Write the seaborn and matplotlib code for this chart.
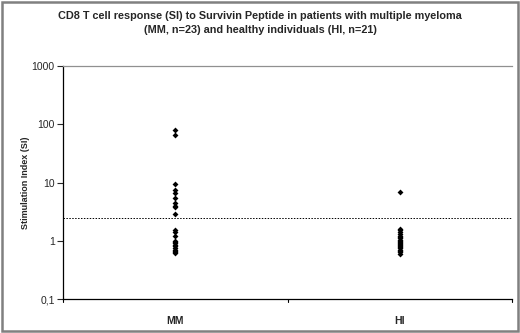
import numpy as np
import pandas as pd
import seaborn as sns
import matplotlib.pyplot as plt
from matplotlib.patches import Rectangle
from matplotlib.ticker import FixedLocator, NullLocator

# datos (SI por paciente)
grupos = ["MM", "HI"]
si_mm = [80, 65, 9.5, 7.5, 6.5, 5.5, 4.5, 4.0, 3.8, 2.9,
         1.5, 1.4, 1.2, 1.0, 0.95, 0.9, 0.85, 0.8, 0.75, 0.7, 0.68, 0.65, 0.62]
si_hi = [7.0, 1.6, 1.5, 1.4, 1.3, 1.2, 1.15, 1.1, 1.05, 1.0, 0.95,
         0.9, 0.87, 0.84, 0.8, 0.77, 0.74, 0.7, 0.67, 0.64, 0.6]
umbral = 2.5
yticks = [0.1, 1, 10, 100, 1000]
ytick_labels = ["0,1", "1", "10", "100", "1000"]

titulo = ("CD8 T cell response (SI) to Survivin Peptide in patients with multiple myeloma\n"
          "(MM, n=23) and healthy individuals (HI, n=21)")

df = pd.DataFrame({
    "Grupo": ["MM"] * len(si_mm) + ["HI"] * len(si_hi),
    "SI": si_mm + si_hi,
})

sns.set_style("white")
plt.rcParams['font.family'] = ['Liberation Sans', 'DejaVu Sans']

fig = plt.figure(figsize=(5.2, 3.33), dpi=100)
ax = fig.add_axes([0.1212, 0.1021, 0.8634, 0.6997])

sns.stripplot(data=df, x="Grupo", y="SI", order=grupos, jitter=False,
              color="black", marker="D", size=3.0, linewidth=0, ax=ax)

ax.set_yscale("log")
ax.set_ylim(0.1, 1000)
ax.set_xlim(-0.5, 1.5)
ax.axhline(umbral, color="black", ls=(0, (1.5, 1.5)), lw=0.7)

ax.yaxis.set_major_locator(FixedLocator(yticks))
ax.yaxis.set_minor_locator(NullLocator())
ax.set_yticklabels(ytick_labels, fontsize=7.5)
ax.set_xticks([0, 1])
ax.set_xticklabels(grupos, fontsize=7.5, fontweight="bold")
ax.tick_params(axis="x", length=0, pad=12)
ax.tick_params(axis="y", length=4, width=0.8, direction="out", left=True, pad=2)
# marcas entre categorias en el eje x
for xb in [-0.5, 0.5, 1.5]:
    ax.plot([xb, xb], [0.1, 0.1 * 10 ** -0.06], color="black", lw=0.8, clip_on=False)

ax.set_xlabel("")
ax.set_ylabel("Stimulation Index (SI)", fontsize=6.5, fontweight="bold", labelpad=1)

for s in ["left", "bottom"]:
    ax.spines[s].set_color("black")
    ax.spines[s].set_linewidth(0.9)
ax.spines["right"].set_visible(False)
ax.spines["top"].set_color("#909090")
ax.spines["top"].set_linewidth(0.9)

fig.text(0.5, 0.93, titulo, ha="center", va="center", fontsize=7.8,
         fontweight="bold", linespacing=1.5)

fig.patches.append(Rectangle((0.003, 0.005), 0.994, 0.99, transform=fig.transFigure,
                             fill=False, edgecolor="#808080", lw=1.8))

fig.savefig("out.png", dpi=100)
